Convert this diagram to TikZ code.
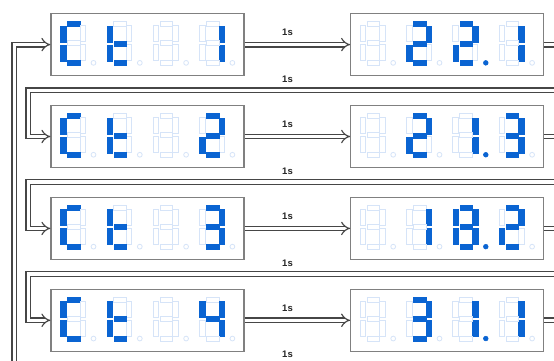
\documentclass[tikz,border=0pt]{standalone}
\usepackage{fontspec}
\setmainfont{Liberation Sans}
\usetikzlibrary{arrows.meta}

\definecolor{segblue}{RGB}{10,100,210}
\definecolor{segdim}{RGB}{214,228,248}
\definecolor{wire}{RGB}{70,70,70}
\definecolor{frame}{RGB}{128,128,128}

\makeatletter
% one seven-segment digit: #1,#2 = top-left corner, #3 = lit segments (letters a-g), #4 = 1 if the point is lit
\newcommand\sevseg[4]{%
  \begin{scope}[shift={(#1,#2)}]
    \foreach \s/\xa/\ya/\xb/\yb in {a/7/0/19.5/5, b/19.5/4.5/25/20.5, c/19.5/23.5/25/39.5,
        d/7/39/19.5/44, e/0/23.5/5.5/39.5, f/0/4.5/5.5/20.5, g/7/19.5/19.5/24.5}{%
      \edef\segtest{\noexpand\in@{\s}{#3}}\segtest
      \ifin@ \path[segon] (\xa,\ya) rectangle (\xb,\yb);
      \else \path[segoff] (\xa,\ya) rectangle (\xb,\yb); \fi
    }
    \ifnum#4=1 \path[segon] (33,41.5) circle[radius=2.4];
    \else \path[segoff] (33,41.5) circle[radius=2.4]; \fi
  \end{scope}}
\makeatother

% four digits in a panel whose top-left corner is (#1,#2)
\newcommand\readout[3]{%
  \foreach \segs/\dp [count=\k from 0] in {#3}{%
    \sevseg{#1+9.5+46.3*\k}{#2+8}{\segs}{\dp}}}

\begin{document}
\begin{tikzpicture}[x=1pt,y=-1pt,
  panel/.style={draw=frame, line width=1.1pt, fill=white, minimum width=193pt,
    minimum height=62.5pt, inner sep=0pt},
  wirepath/.style={draw=wire, line width=1.15pt, double=white, double distance=3.5pt,
    -{Implies}},
  lbl/.style={font=\bfseries\fontsize{9.5}{10}\selectfont, text=black!85, inner sep=0pt},
  segon/.style={fill=segblue, draw=segblue, line width=0.5pt},
  segoff/.style={draw=segdim, line width=0.8pt, fill=white}]

\useasboundingbox (0,0) rectangle (554,360);
\fill[white] (0,0) rectangle (554,360);
\clip (0,0) rectangle (554,360);

% panels
\node[panel] (L1) at (147.5,44.6)  {};
\node[panel] (R1) at (447.2,44.6)  {};
\node[panel] (L2) at (147.5,136.5) {};
\node[panel] (R2) at (447.2,136.5) {};
\node[panel] (L3) at (147.5,228.4) {};
\node[panel] (R3) at (447.2,228.4) {};
\node[panel] (L4) at (147.5,320.3) {};
\node[panel] (R4) at (447.2,320.3) {};

% displays: Ct n  and the measured values
\readout{51}{13.35}{adef/0, defg/0, -/0, bc/0}
\readout{350.7}{13.35}{-/0, abdeg/0, abdeg/1, bc/0}
\readout{51}{105.25}{adef/0, defg/0, -/0, abdeg/0}
\readout{350.7}{105.25}{-/0, abdeg/0, bc/1, abcdg/0}
\readout{51}{197.15}{adef/0, defg/0, -/0, abcdg/0}
\readout{350.7}{197.15}{-/0, bc/0, abcdefg/1, abdeg/0}
\readout{51}{289.05}{adef/0, defg/0, -/0, bcfg/0}
\readout{350.7}{289.05}{-/0, abcdg/0, bc/1, bc/0}

% turning points of the return paths
\coordinate (r1) at (562,90.3);  \coordinate (l1) at (28.3,90.3);
\coordinate (r2) at (562,182.2); \coordinate (l2) at (28.3,182.2);
\coordinate (r3) at (562,274.1); \coordinate (l3) at (28.3,274.1);
\coordinate (r4) at (562,366);   \coordinate (l4) at (14.3,366);

% transitions inside each row
\draw[wirepath] (L1.east) -- (R1.west);
\draw[wirepath] (L2.east) -- (R2.west);
\draw[wirepath] (L3.east) -- (R3.west);
\draw[wirepath] (L4.east) -- (R4.west);

% transitions to the next row, and back to the top
\draw[wirepath] (R1.east) -| (r1) -- (l1) |- (L2.west);
\draw[wirepath] (R2.east) -| (r2) -- (l2) |- (L3.west);
\draw[wirepath] (R3.east) -| (r3) -- (l3) |- (L4.west);
\draw[wirepath] (R4.east) -| (r4) -- (l4) |- (L1.west);

% timing labels
\node[lbl] (t1) at (287.5,32.3)  {1s};
\node[lbl] (t2) at (287.5,124.2) {1s};
\node[lbl] (t3) at (287.5,216.1) {1s};
\node[lbl] (t4) at (287.5,308)   {1s};
\node[lbl] (u1) at (287.5,79.3)  {1s};
\node[lbl] (u2) at (287.5,171.2) {1s};
\node[lbl] (u3) at (287.5,263.1) {1s};
\node[lbl] (u4) at (287.5,354.5) {1s};
\end{tikzpicture}
\end{document}
